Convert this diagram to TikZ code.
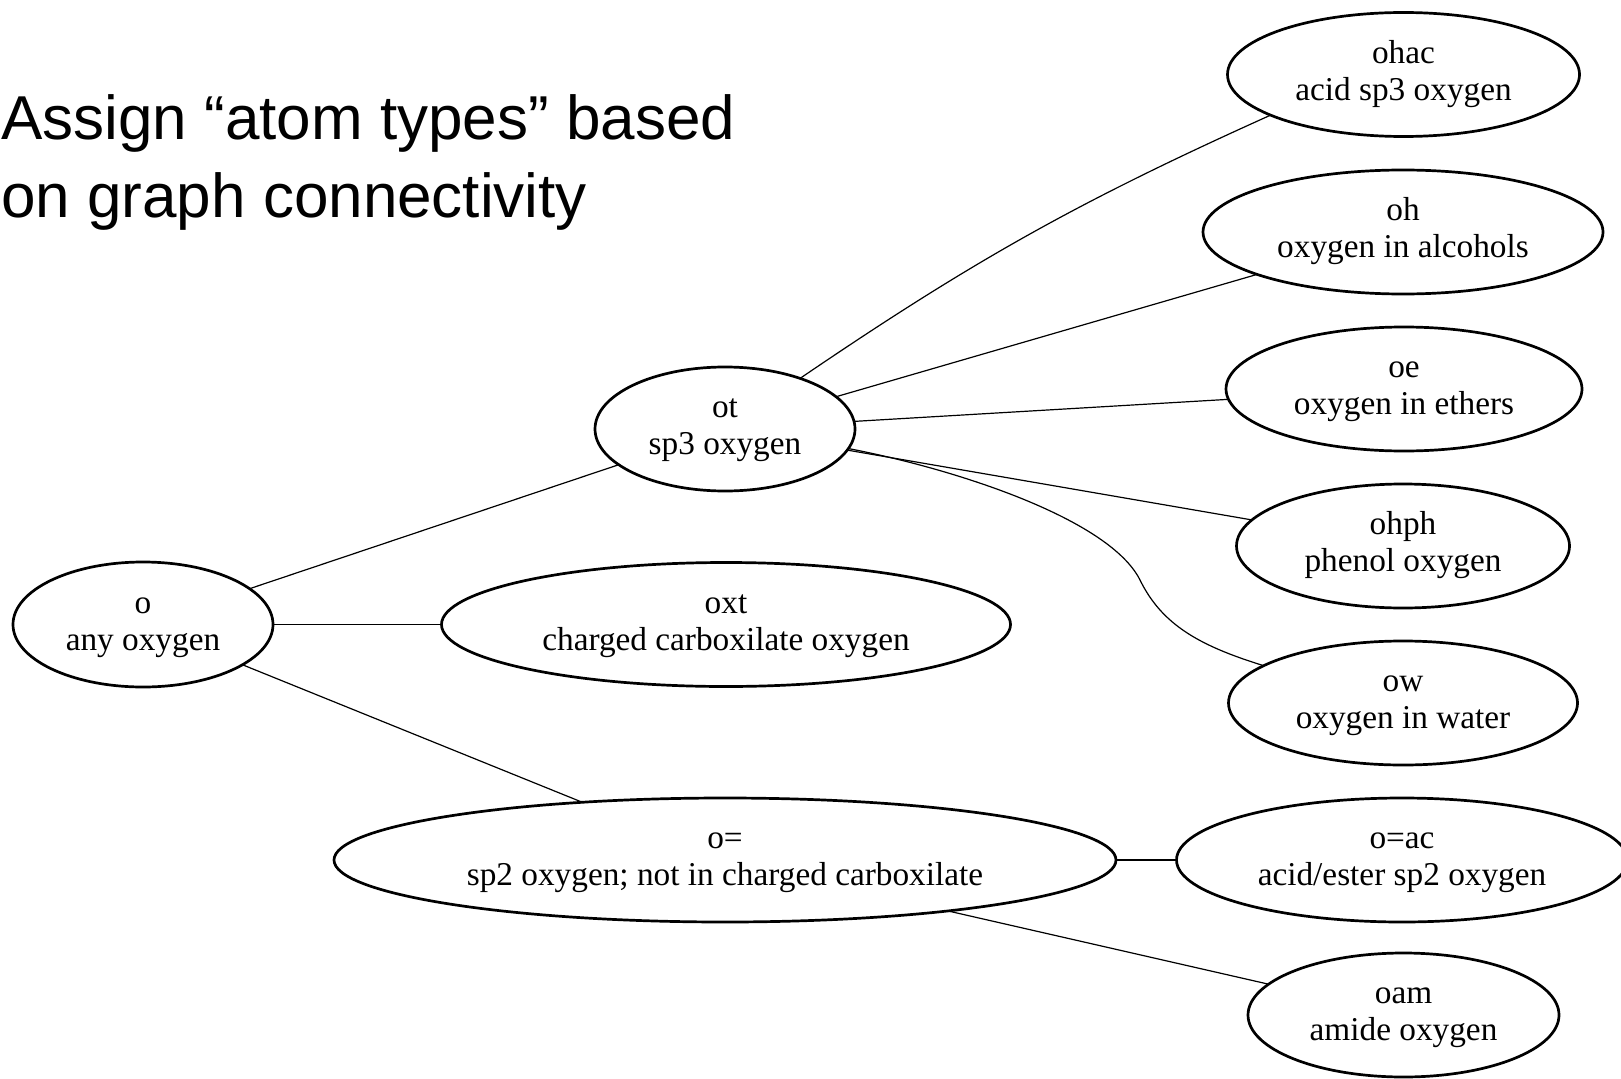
\documentclass[tikz,border=0pt]{standalone}
\usepackage{fontspec}
\setmainfont{Liberation Serif}
\newfontfamily\titlefont{Liberation Sans}
\usetikzlibrary{shapes.geometric}
\begin{document}
\begin{tikzpicture}[x=1pt,y=-1pt,
  oval/.style={ellipse, draw, line width=2.7pt, inner sep=0pt, outer sep=0pt,
    minimum height=124pt, align=center, font=\fontsize{33.3}{37}\selectfont},
  edge/.style={line width=1.2pt},
  title/.style={anchor=base west, inner sep=0pt, font=\titlefont\fontsize{62}{75}\selectfont}]
\useasboundingbox (0,0) rectangle (1621,1078);
\fill[white] (0,0) rectangle (1621,1078);
% title
\node[title] (t1) at (1,140) {Assign “atom types” based};
\node[title] (t2) at (1,217) {on graph connectivity};
% nodes
\node[oval, minimum width=260pt, minimum height=125pt] (o) at (143,624.5) {\strut o\\\strut any oxygen};
\node[oval, minimum width=260pt] (ot) at (725,429) {\strut ot\\\strut sp3 oxygen};
\node[oval, minimum width=569pt] (oxt) at (726,624.5) {\strut oxt\\\strut charged carboxilate oxygen};
\node[oval, minimum width=782pt] (oeq) at (725,860) {\strut o=\\\strut sp2 oxygen; not in charged carboxilate};
\node[oval, minimum width=352pt] (ohac) at (1403.5,74.5) {\strut ohac\\\strut acid sp3 oxygen};
\node[oval, minimum width=400pt] (oh) at (1403,232) {\strut oh\\\strut oxygen in alcohols};
\node[oval, minimum width=356pt] (oe) at (1404,389) {\strut oe\\\strut oxygen in ethers};
\node[oval, minimum width=333pt] (ohph) at (1403,546) {\strut ohph\\\strut phenol oxygen};
\node[oval, minimum width=349pt] (ow) at (1403,703) {\strut ow\\\strut oxygen in water};
\node[oval, minimum width=451pt] (oeqac) at (1402,860) {\strut o=ac\\\strut acid/ester sp2 oxygen};
\node[oval, minimum width=311pt] (oam) at (1403.5,1015) {\strut oam\\\strut amide oxygen};
% edges
\draw[edge] (o) -- (ot);
\draw[edge] (o) -- (oxt);
\draw[edge] (o) -- (oeq);
\draw[edge] (ot.34) to[bend left=5] (ohac.197);
\draw[edge] (ot) -- (oh);
\draw[edge] (ot) -- (oe);
\draw[edge] (ot) -- (ohph);
\draw[edge] (ot.-9) .. controls (960,470) and (1110,520) .. (1140,580)
  .. controls (1162,625) and (1200,646) .. (ow.165);
\draw[edge] (oeq) -- (oeqac);
\draw[edge] (oeq) -- (oam);
\end{tikzpicture}
\end{document}
